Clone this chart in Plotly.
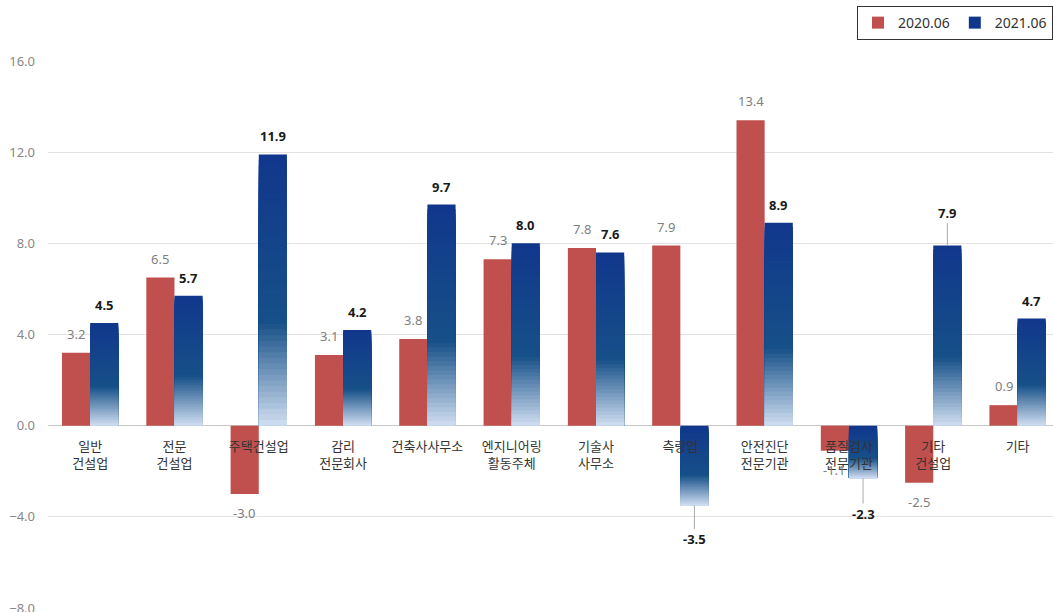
import plotly.graph_objects as go
import numpy as np

categories = ["일반<br>건설업", "전문<br>건설업", "주택건설업", "감리<br>전문회사", "건축사사무소",
              "엔지니어링<br>활동주체", "기술사<br>사무소", "측량업", "안전진단<br>전문기관",
              "품질검사<br>전문기관", "기타<br>건설업", "기타"]
series_2020 = [3.2, 6.5, -3.0, 3.1, 3.8, 7.3, 7.8, 7.9, 13.4, -1.1, -2.5, 0.9]
series_2021 = [4.5, 5.7, 11.9, 4.2, 9.7, 8.0, 7.6, -3.5, 8.9, -2.3, 7.9, 4.7]
y_ticks = [-8, -4, 0, 4, 8, 12, 16]

RED = "#c0504d"
idx = np.arange(len(categories))
W = 0.334

fig = go.Figure()
fig.add_trace(go.Bar(x=idx, y=series_2020, offset=-W, width=W, name="2020.06",
                     marker=dict(color=RED, line=dict(width=0)), hoverinfo="skip"))

stops = [(0.0, (17, 55, 140)), (0.62, (22, 80, 136)), (1.0, (208, 222, 241))]
def grad(f):
    for (f0, c0), (f1, c1) in zip(stops[:-1], stops[1:]):
        if f <= f1:
            t = (f - f0) / (f1 - f0)
            c = [round(a + (b - a) * t) for a, b in zip(c0, c1)]
            return f"rgb({c[0]},{c[1]},{c[2]})"
    c = stops[-1][1]
    return f"rgb({c[0]},{c[1]},{c[2]})"

v = np.array(series_2021)
top = np.maximum(v, 0)
bot = np.minimum(v, 0)
h = top - bot
N = 48
for k in range(N):
    fig.add_trace(go.Bar(x=idx, y=h * (1 - k / N), base=bot, offset=0, width=W,
                         name="2021.06", showlegend=(k == 0),
                         marker=dict(color=grad((k + 0.5) / N), line=dict(width=0)),
                         hoverinfo="skip"))

annotations = []
for i, val in enumerate(series_2020):
    annotations.append(dict(x=i - W / 2, y=val, text=f"{val:.1f}", showarrow=False,
                            yshift=19 if val >= 0 else -19,
                            font=dict(family="Noto Sans", size=13, color="#808080")))
leader = {7: 34, 9: 36, 10: -33}
for i, val in enumerate(series_2021):
    a = dict(x=i + W / 2, y=val, text=f"<b>{val:.1f}</b>",
             font=dict(family="Noto Sans", size=13, color="#1a1a1a"))
    if i in leader:
        a.update(showarrow=True, arrowhead=0, arrowwidth=1, arrowcolor="#aaaaaa",
                 ax=0, ay=leader[i], standoff=0)
    else:
        a.update(showarrow=False, yshift=18 if val >= 0 else -18)
    annotations.append(a)

fig.update_layout(
    width=1053, height=612, autosize=False,
    margin=dict(l=48, r=0, t=61, b=4),
    paper_bgcolor="white", plot_bgcolor="white",
    barmode="overlay",
    showlegend=True,
    legend=dict(orientation="h", x=1, xanchor="right", y=1.1005, yanchor="top",
                bordercolor="#333333", borderwidth=1, itemwidth=30,
                font=dict(family="Noto Sans", size=14, color="#333333"),
                traceorder="normal"),
    annotations=annotations,
    xaxis=dict(range=[-0.5, 11.42], tickmode="array", tickvals=list(idx), ticktext=categories,
               showgrid=False, zeroline=False, showline=False, anchor="free", position=1/3,
               ticks="", ticklabelstandoff=11, automargin=False,
               tickfont=dict(family="Noto Sans CJK KR", size=13, color="#333333")),
    yaxis=dict(range=[-8, 16], tickmode="array", tickvals=y_ticks, tickformat=".1f",
               showgrid=True, gridcolor="#e2e2e2", gridwidth=1,
               zeroline=True, zerolinecolor="#c8c8c8", zerolinewidth=1,
               ticks="", ticklabelstandoff=12, ticklabeloverflow="allow", automargin=False,
               tickfont=dict(family="Noto Sans", size=13, color="#888888")),
)

fig.write_html("out.html")
